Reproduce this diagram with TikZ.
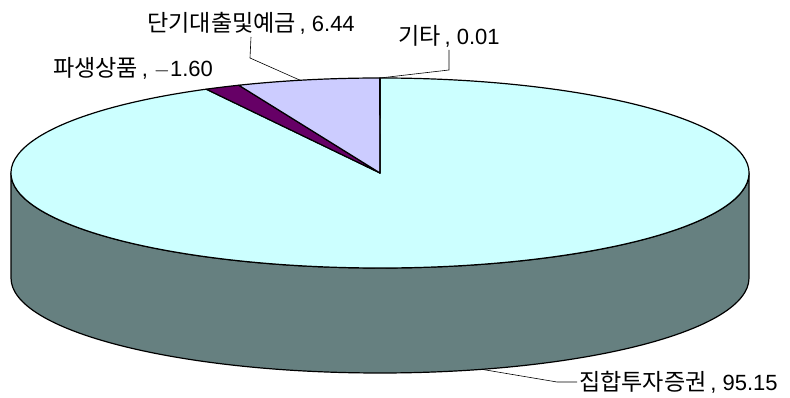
\documentclass[tikz,border=0pt]{standalone}
\usepackage{fontspec}
\setmainfont{Liberation Sans}
\newfontfamily\kr[Scale=1.05]{Noto Sans CJK KR}
\definecolor{topcyan}{HTML}{CCFFFF}
\definecolor{sidegray}{HTML}{668080}
\definecolor{lavender}{HTML}{CCCCFF}
\definecolor{plum}{HTML}{660066}
\begin{document}
\begin{tikzpicture}[x=1pt,y=1pt,
    slice/.style={draw=black,line width=1.2pt,line join=round},
    lead/.style={draw=black,line width=0.6pt},
    lbl/.style={font=\fontsize{22}{24}\selectfont,inner sep=2pt}]
    \useasboundingbox (0,0) rectangle (790,398);
    \coordinate (O) at (380,225);
    \coordinate (L) at (11,225);
    \coordinate (B) at (380,120);
    % side of the disc
    \draw[slice,fill=sidegray] (L) arc[start angle=180,end angle=360,x radius=369,y radius=95]
        -- ++(0,-105) arc[start angle=0,end angle=-180,x radius=369,y radius=95] -- cycle;
    % top slices
    \draw[slice,fill=topcyan] (O) -- ([shift={(O)}]118.1:369 and 95)
        arc[start angle=118.1,end angle=449.96,x radius=369,y radius=95] -- cycle;
    \draw[slice,fill=plum] (O) -- ([shift={(O)}]112.5:369 and 95)
        arc[start angle=112.5,end angle=118.1,x radius=369,y radius=95] -- cycle;
    \draw[slice,fill=lavender] (O) -- ([shift={(O)}]90.04:369 and 95)
        arc[start angle=90.04,end angle=112.5,x radius=369,y radius=95] -- cycle;
    \draw[slice,fill=white] (O) -- ([shift={(O)}]90:369 and 95)
        arc[start angle=90,end angle=90.04,x radius=369,y radius=95] -- cycle;
    % labels
    \node[lbl,anchor=south] (lblkita) at (449,348) {{\kr 기타}\,, 0.01};
    \node[lbl,anchor=south] (lbldanki) at (251,361) {{\kr 단기대출및예금}\,, 6.44};
    \node[lbl] (lblpasaeng) at (133,330) {{\kr 파생상품}\,, $-$1.60};
    \node[lbl,anchor=west] (lbljiphap) at (577,16) {{\kr 집합투자증권}\,, 95.15};
    % leader lines
    \coordinate (pkita) at ([shift={(O)}]90:369 and 95);
    \coordinate (bkita) at (449,328);
    \coordinate (pdanki) at ([shift={(O)}]102.5:369 and 95);
    \coordinate (bdanki) at (250,340);
    \coordinate (pjiphap) at ([shift={(B)}]-74:369 and 95);
    \coordinate (bjiphap) at (557,16);
    \draw[lead] (pkita) -- (bkita) -- (lblkita.south);
    \draw[lead] (pdanki) -- (bdanki) -- (lbldanki.south);
    \draw[lead] (pjiphap) -- (bjiphap) -- (lbljiphap.west);
\end{tikzpicture}
\end{document}
